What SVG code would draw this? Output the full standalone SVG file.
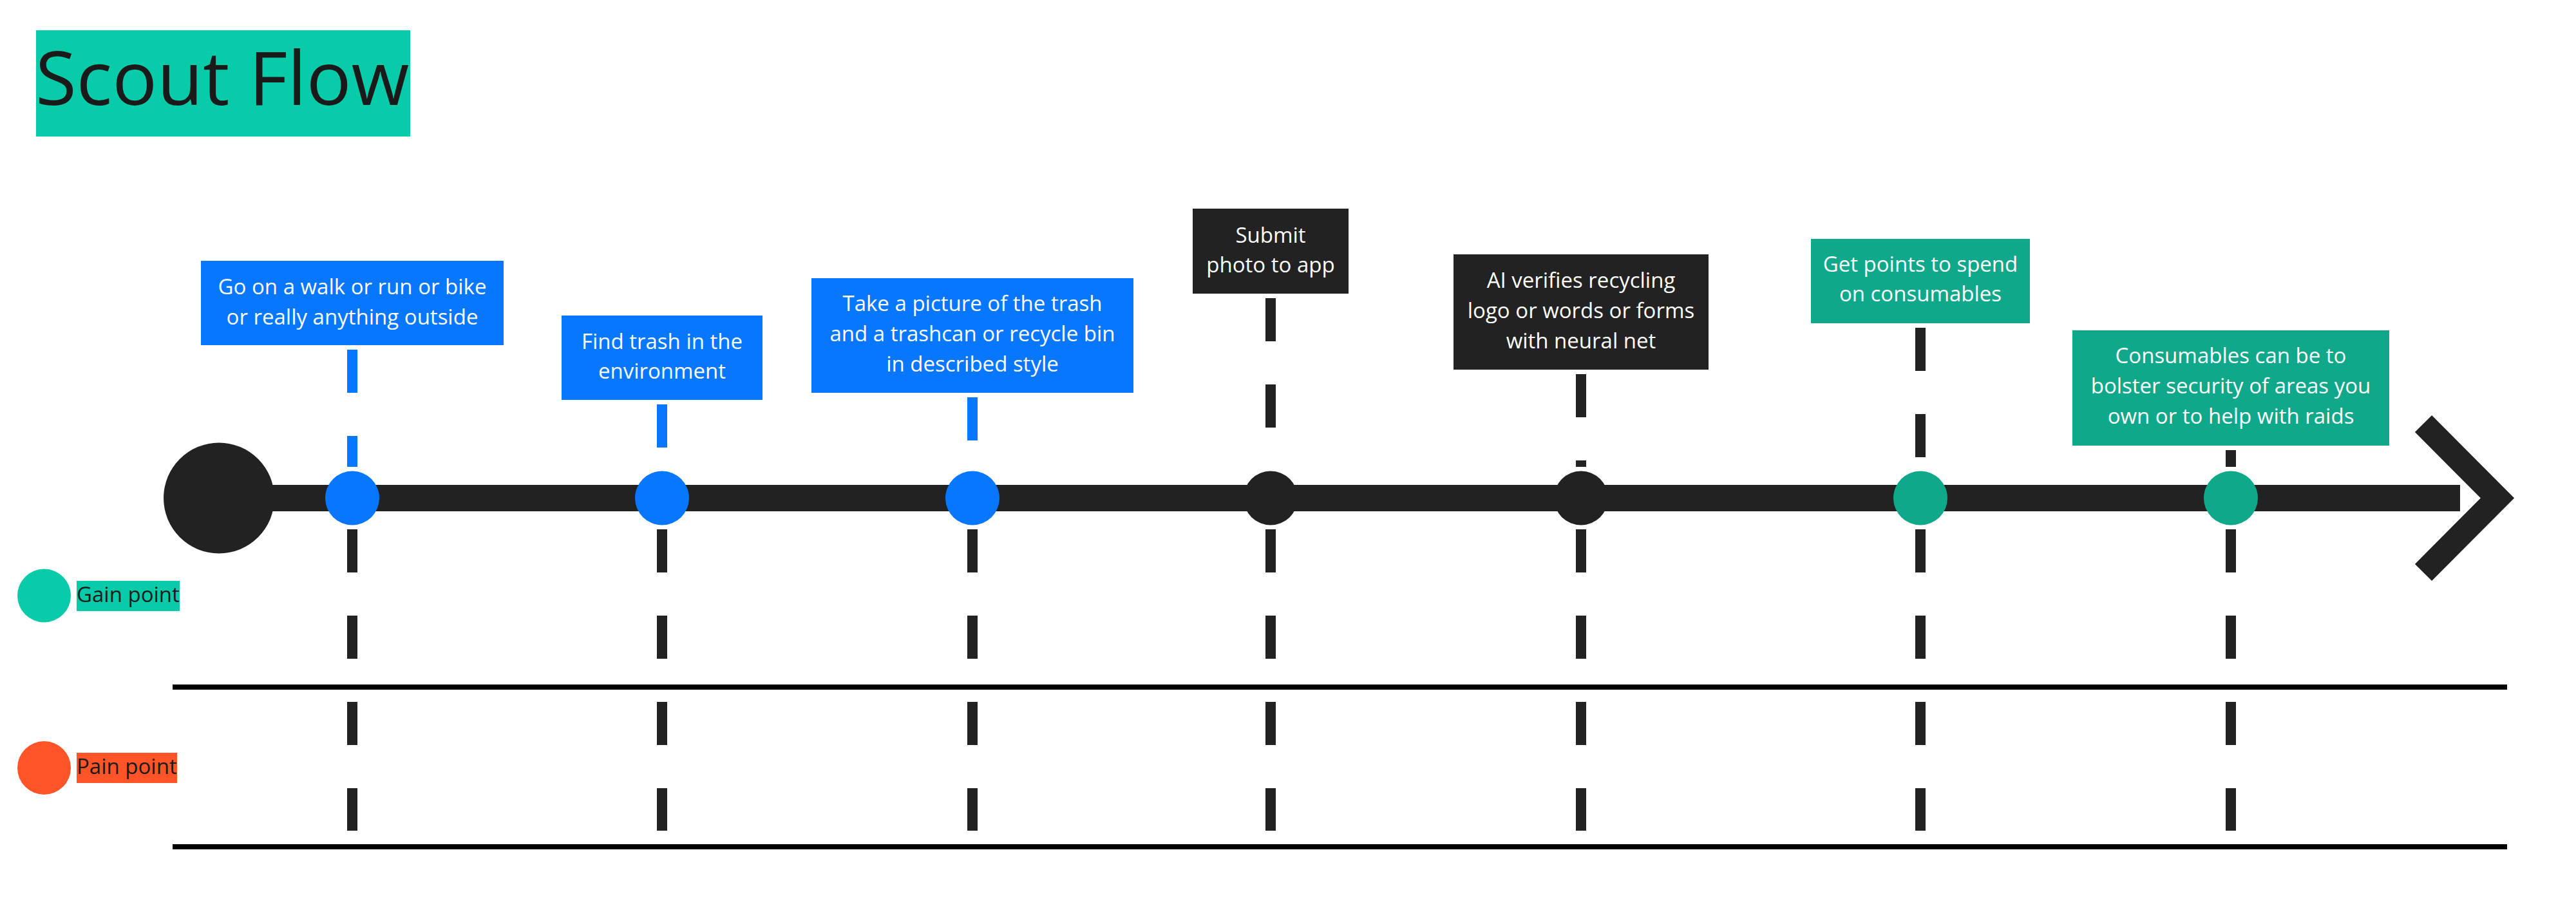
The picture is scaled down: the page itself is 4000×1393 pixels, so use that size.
<svg xmlns="http://www.w3.org/2000/svg" width="4000" height="1393" viewBox="0 0 4000 1393">
<style>
  text { font-family: "Open Sans", "Noto Sans", "Liberation Sans", sans-serif; }
  .lbl { font-size: 33px; fill: #ffffff; text-anchor: middle; }
  .leg { font-size: 33px; fill: #1a1a1a; }
  .blue { fill: #0777FF; }
  .dark { fill: #222222; }
  .green { fill: #10A88A; }
  .dashB { stroke: #0777FF; stroke-width: 16; stroke-dasharray: 67 67; fill: none; }
  .dashD { stroke: #222222; stroke-width: 16; stroke-dasharray: 67 67; fill: none; }
</style>
<rect width="4000" height="1393" fill="#ffffff"/>

<g id="title">
  <rect x="56" y="47" width="581" height="165" fill="#08CBA9"/>
  <text x="55" y="163" style="font-size:116px; fill:#1a1a1a;">Scout Flow</text>
</g>

<g id="legend-gain">
  <circle cx="68.5" cy="925" r="41.5" fill="#08CBA9"/>
  <rect x="119" y="902" width="160" height="47" fill="#08CBA9"/>
  <text class="leg" x="119" y="935">Gain point</text>
</g>
<g id="legend-pain">
  <circle cx="68.5" cy="1192.5" r="41.5" fill="#FF5427"/>
  <rect x="119" y="1169" width="156" height="47" fill="#FF5427"/>
  <text class="leg" x="119" y="1202">Pain point</text>
</g>

<g id="lanes">
  <rect x="268" y="1063" width="3625" height="8" fill="#000000"/>
  <rect x="268" y="1311" width="3625" height="8" fill="#000000"/>
</g>

<g id="connectors">
  <!-- upper -->
  <line class="dashB" x1="547" y1="543" x2="547" y2="725"/>
  <line class="dashB" x1="1028" y1="628" x2="1028" y2="725"/>
  <line class="dashB" x1="1510" y1="617" x2="1510" y2="725"/>
  <line class="dashD" x1="1973" y1="463" x2="1973" y2="725"/>
  <line class="dashD" x1="2455" y1="581" x2="2455" y2="725"/>
  <line class="dashD" x1="2982" y1="509" x2="2982" y2="725"/>
  <line class="dashD" x1="3464" y1="699" x2="3464" y2="725"/>
  <!-- lower -->
  <line class="dashD" x1="547" y1="822" x2="547" y2="1290"/>
  <line class="dashD" x1="1028" y1="822" x2="1028" y2="1290"/>
  <line class="dashD" x1="1510" y1="822" x2="1510" y2="1290"/>
  <line class="dashD" x1="1973" y1="822" x2="1973" y2="1290"/>
  <line class="dashD" x1="2455" y1="822" x2="2455" y2="1290"/>
  <line class="dashD" x1="2982" y1="822" x2="2982" y2="1290"/>
  <line class="dashD" x1="3464" y1="822" x2="3464" y2="1290"/>
</g>

<g id="timeline">
  <rect x="340" y="753" width="3480" height="41" fill="#222222"/>
  <circle cx="340" cy="773.5" r="86" fill="#222222"/>
  <polyline points="3763,658 3878,773.5 3763,889" fill="none" stroke="#222222" stroke-width="37" stroke-linejoin="miter" stroke-miterlimit="10"/>
</g>

<g id="step1">
  <rect class="blue" x="312" y="405" width="470" height="131"/>
  <text class="lbl" x="547" y="457">Go on a walk or run or bike</text>
  <text class="lbl" x="547" y="504">or really anything outside</text>
  <circle class="blue" cx="547" cy="773.5" r="42"/>
</g>
<g id="step2">
  <rect class="blue" x="872" y="490" width="312" height="131"/>
  <text class="lbl" x="1028" y="542">Find trash in the</text>
  <text class="lbl" x="1028" y="588">environment</text>
  <circle class="blue" cx="1028" cy="773.5" r="42"/>
</g>
<g id="step3">
  <rect class="blue" x="1260" y="432" width="500" height="178"/>
  <text class="lbl" x="1510" y="483">Take a picture of the trash</text>
  <text class="lbl" x="1510" y="530">and a trashcan or recycle bin</text>
  <text class="lbl" x="1510" y="577">in described style</text>
  <circle class="blue" cx="1510" cy="773.5" r="42"/>
</g>
<g id="step4">
  <rect class="dark" x="1852" y="324" width="242" height="132"/>
  <text class="lbl" x="1973" y="377">Submit</text>
  <text class="lbl" x="1973" y="423">photo to app</text>
  <circle class="dark" cx="1973" cy="773.5" r="42"/>
</g>
<g id="step5">
  <rect class="dark" x="2257" y="395" width="396" height="179"/>
  <text class="lbl" x="2455" y="447">AI verifies recycling</text>
  <text class="lbl" x="2455" y="494">logo or words or forms</text>
  <text class="lbl" x="2455" y="541">with neural net</text>
  <circle class="dark" cx="2455" cy="773.5" r="42"/>
</g>
<g id="step6">
  <rect class="green" x="2812" y="371" width="340" height="131"/>
  <text class="lbl" x="2982" y="422">Get points to spend</text>
  <text class="lbl" x="2982" y="468">on consumables</text>
  <circle class="green" cx="2982" cy="773.5" r="42"/>
</g>
<g id="step7">
  <rect class="green" x="3218" y="513" width="492" height="179"/>
  <text class="lbl" x="3464" y="564">Consumables can be to</text>
  <text class="lbl" x="3464" y="611">bolster security of areas you</text>
  <text class="lbl" x="3464" y="658">own or to help with raids</text>
  <circle class="green" cx="3464" cy="773.5" r="42"/>
</g>
</svg>
